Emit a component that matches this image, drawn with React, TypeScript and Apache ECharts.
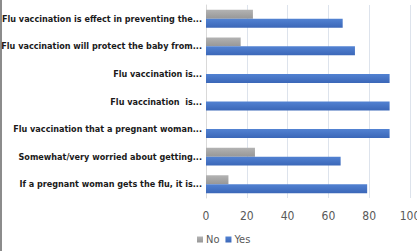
import React, { useEffect, useRef } from "react";
import * as echarts from "echarts";

const categories = [
  "Flu vaccination is effect in preventing the...",
  "Flu vaccination will protect the baby from...",
  "Flu vaccination is...",
  "Flu vaccination  is...",
  "Flu vaccination that a pregnant woman...",
  "Somewhat/very worried about getting...",
  "If a pregnant woman gets the flu, it is...",
];
const noValues = [23, 17, 0, 0, 0, 24, 11];
const yesValues = [67, 73, 90, 90, 90, 66, 79];
const xTicks = [0, 20, 40, 60, 80, 100];

const LABEL_FONT = "'Liberation Sans Narrow', 'DejaVu Sans Condensed', 'Liberation Sans', sans-serif";

export default function App() {
  const ref = useRef<HTMLDivElement>(null);
  useEffect(() => {
    if (!ref.current) return;
    const chart = echarts.init(ref.current, null, { renderer: "svg" });
    chart.setOption({
      animation: false,
      backgroundColor: "#ffffff",
      grid: { left: 206, right: 7, top: 5, bottom: 53, containLabel: false, outerBoundsMode: "none" },
      legend: {
        data: ["No", "Yes"],
        left: 192,
        bottom: 1,
        itemWidth: 6,
        itemHeight: 6,
        itemGap: 6,
        icon: "rect",
        textStyle: { fontSize: 11, color: "#595959", fontFamily: LABEL_FONT, padding: [0, 0, 0, -2] },
      },
      xAxis: {
        type: "value",
        min: xTicks[0],
        max: xTicks[xTicks.length - 1],
        interval: 20,
        axisLine: { show: false },
        axisTick: { show: false },
        axisLabel: { fontSize: 12, color: "#595959", margin: 12, fontFamily: LABEL_FONT },
        splitLine: { lineStyle: { color: "#dde3ec", width: 1 } },
      },
      yAxis: {
        type: "category",
        data: categories,
        inverse: true,
        axisLine: { show: true, lineStyle: { color: "#d9d9d9" } },
        axisTick: { show: false },
        axisLabel: {
          fontSize: 9,
          fontWeight: "bold",
          color: "#1a1a1a",
          margin: 4,
          fontFamily: LABEL_FONT,
        },
      },
      series: [
        {
          name: "No",
          type: "bar",
          data: noValues,
          barGap: "0%",
          barCategoryGap: "35%",
          itemStyle: {
            color: new echarts.graphic.LinearGradient(0, 0, 0, 1, [
              { offset: 0, color: "#b3b3b3" },
              { offset: 1, color: "#979797" },
            ]),
          },
        },
        {
          name: "Yes",
          type: "bar",
          data: yesValues,
          itemStyle: {
            color: new echarts.graphic.LinearGradient(0, 0, 0, 1, [
              { offset: 0, color: "#5282d2" },
              { offset: 1, color: "#3b67b8" },
            ]),
          },
        },
      ],
      graphic: [
        {
          type: "rect",
          shape: { x: 0, y: 0, width: 2, height: 251 },
          style: { fill: "#8c8c8c" },
        },
      ],
    });
    return () => chart.dispose();
  }, []);
  return (
    <div
      ref={ref}
      style={{ position: "fixed", left: 0, top: 0, width: 417, height: 251 }}
    />
  );
}
